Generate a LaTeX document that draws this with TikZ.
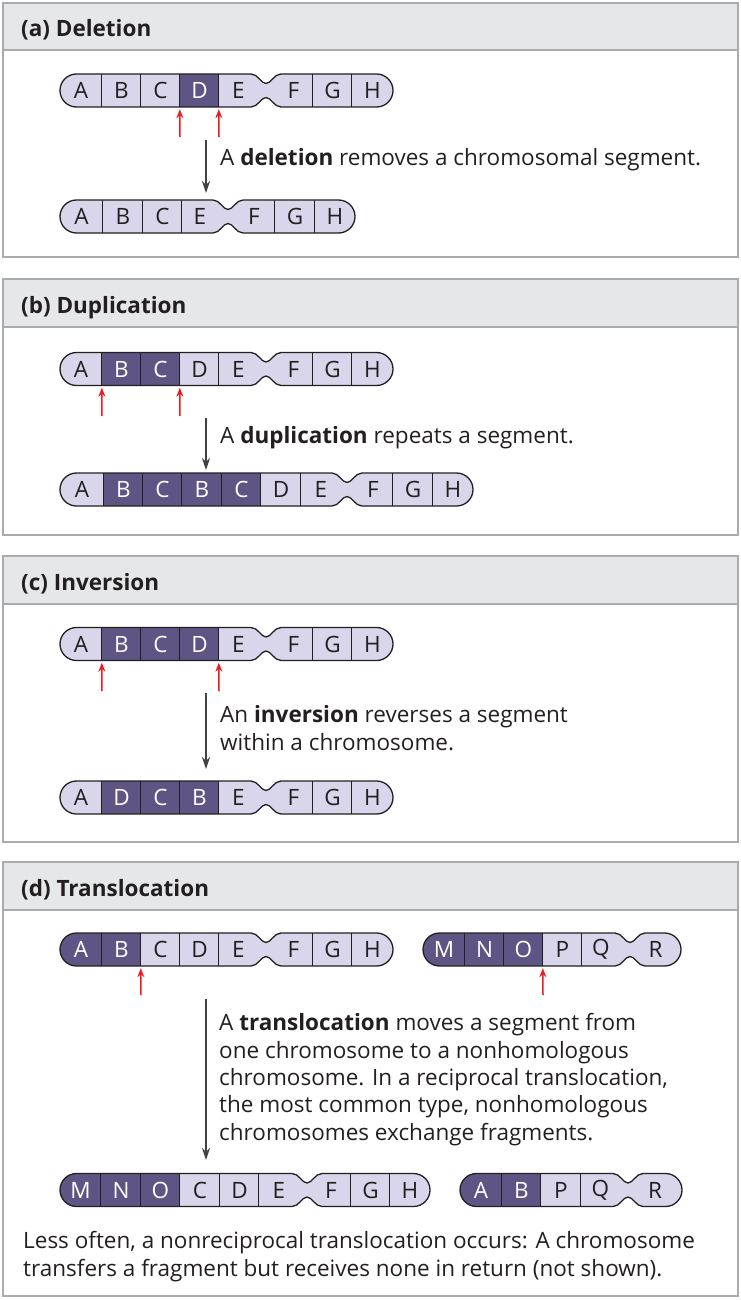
\documentclass[tikz,border=0pt]{standalone}
\usepackage{fontspec}
\setmainfont{Open Sans}
\usetikzlibrary{arrows.meta}

\definecolor{chromlight}{HTML}{D9D5EA}
\definecolor{chromdark}{HTML}{5E5584}
\definecolor{panelgrey}{HTML}{E6E7E8}
\definecolor{framegrey}{HTML}{A9ABAE}
\definecolor{ink}{HTML}{231F20}
\definecolor{cutred}{HTML}{ED1C24}

% outline of a chromosome: left end, right end, centre line, centromere
\newcommand{\chromshape}[4]{%
  ({#1+16.5},{#3-16.5}) -- ({#4-15},{#3-16.5})
  .. controls ({#4-8},{#3-16.5}) and ({#4-5},{#3-7}) .. ({#4},{#3-7})
  .. controls ({#4+5},{#3-7}) and ({#4+8},{#3-16.5}) .. ({#4+15},{#3-16.5})
  -- ({#2-16.5},{#3-16.5}) arc[start angle=-90,end angle=90,radius=16.5]
  -- ({#4+15},{#3+16.5})
  .. controls ({#4+8},{#3+16.5}) and ({#4+5},{#3+7}) .. ({#4},{#3+7})
  .. controls ({#4-5},{#3+7}) and ({#4-8},{#3+16.5}) .. ({#4-15},{#3+16.5})
  -- ({#1+16.5},{#3+16.5}) arc[start angle=90,end angle=270,radius=16.5] -- cycle}

% name, left, right, centre line, centromere, cells
\newcommand{\chromosome}[6]{%
  \begin{scope}
    \clip \chromshape{#2}{#3}{#4}{#5};
    \fill[chromlight] (#2,{#4-20}) rectangle (#3,{#4+20});
    \foreach \xa/\xb/\lab/\kind/\sep [count=\i] in {#6} {
      \node[cell,\kind,minimum width={\xb-\xa}] (#1-\i) at ({(\xa+\xb)/2},#4) {\lab};
      \draw[\sep] (#1-\i.north west) -- (#1-\i.south west);
    }
  \end{scope}
  \draw[chromline] \chromshape{#2}{#3}{#4}{#5};
}

\begin{document}
\begin{tikzpicture}[x=1pt,y=-1pt,
  panel/.style={draw=framegrey,line width=1.5pt},
  header/.style={fill=panelgrey,draw=framegrey,line width=1.5pt},
  title/.style={anchor=base west,inner sep=0,text=ink,font=\fontsize{22.5}{27}\bfseries},
  note/.style={anchor=base west,inner sep=0,text=ink,align=left,font=\fontsize{22.5}{27.3}\selectfont},
  cell/.style={inner sep=0,minimum height=33,font=\fontsize{22.5}{27}\selectfont},
  lightcell/.style={fill=chromlight,text=ink},
  darkcell/.style={fill=chromdark,text=white},
  divider/.style={draw=ink,line width=1.1pt},
  nodivider/.style={draw=none},
  chromline/.style={draw=ink,line width=1.3pt},
  breakpt/.style={draw=cutred,line width=1.5pt,shorten >=2pt,-{Stealth[length=9pt,width=7pt]}},
  change/.style={draw=ink!85,line width=1.5pt,-{Stealth[length=12pt,width=8pt]}}]
\useasboundingbox (0,0) rectangle (740,1300);

% panel frames
\draw[panel] (3,3) rectangle (738,257);
\draw[header] (3,3) rectangle (738,50);
\draw[panel] (3,279) rectangle (738,535);
\draw[header] (3,279) rectangle (738,327);
\draw[panel] (3,556) rectangle (738,842);
\draw[header] (3,556) rectangle (738,604);
\draw[panel] (3,862) rectangle (738,1296);
\draw[header] (3,862) rectangle (738,910);

\node[title] (ta) at (21,37) {(a) Deletion};
\node[title] (tb) at (21,313.5) {(b) Duplication};
\node[title] (tc) at (21,590.5) {(c) Inversion};
\node[title] (td) at (21,896.5) {(d) Translocation};

% (a) deletion
\chromosome{a1}{60}{393}{90.5}{266}{60/102/A/lightcell/nodivider, 102/141/B/lightcell/divider,
  141/180/C/lightcell/divider, 180/219/D/darkcell/divider, 219/258/E/lightcell/divider,
  274/313/F/lightcell/nodivider, 313/352/G/lightcell/divider, 352/393/H/lightcell/divider}
\chromosome{a2}{60}{355}{216.5}{228}{60/103/A/lightcell/nodivider, 103/143/B/lightcell/divider,
  143/182/C/lightcell/divider, 182/218/E/lightcell/divider, 233/275/F/lightcell/nodivider,
  275/315/G/lightcell/divider, 315/355/H/lightcell/divider}
\coordinate (a-cut1) at (180,137);
\coordinate (a-cut2) at (219,137);
\draw[breakpt] (a-cut1) -- (a1-4.south west);
\draw[breakpt] (a-cut2) -- (a1-5.south west);
\coordinate (a-from) at (206,140);
\coordinate (a-to) at (206,193);
\draw[change] (a-from) -- (a-to);
\node[note] (na) at (220,166) {A \textbf{deletion} removes a chromosomal segment.};

% (b) duplication
\chromosome{b1}{60}{393}{369}{266}{60/102/A/lightcell/nodivider, 102/141/B/darkcell/divider,
  141/180/C/darkcell/divider, 180/219/D/lightcell/divider, 219/258/E/lightcell/divider,
  274/313/F/lightcell/nodivider, 313/352/G/lightcell/divider, 352/393/H/lightcell/divider}
\chromosome{b2}{60}{473}{489.5}{347}{60/104/A/lightcell/nodivider, 104/143/B/darkcell/divider,
  143/182/C/darkcell/divider, 182/222/B/darkcell/divider, 222/261/C/darkcell/divider,
  261/301/D/lightcell/divider, 301/341/E/lightcell/divider, 353/393/F/lightcell/nodivider,
  393/433/G/lightcell/divider, 433/473/H/lightcell/divider}
\coordinate (b-cut1) at (102,416);
\coordinate (b-cut2) at (180,416);
\draw[breakpt] (b-cut1) -- (b1-2.south west);
\draw[breakpt] (b-cut2) -- (b1-4.south west);
\coordinate (b-from) at (206,418);
\coordinate (b-to) at (206,470);
\draw[change] (b-from) -- (b-to);
\node[note] (nb) at (220,443) {A \textbf{duplication} repeats a segment.};

% (c) inversion
\chromosome{c1}{60}{393}{644}{266}{60/102/A/lightcell/nodivider, 102/141/B/darkcell/divider,
  141/180/C/darkcell/divider, 180/219/D/darkcell/divider, 219/258/E/lightcell/divider,
  274/313/F/lightcell/nodivider, 313/352/G/lightcell/divider, 352/393/H/lightcell/divider}
\chromosome{c2}{60}{393}{797.5}{266}{60/102/A/lightcell/nodivider, 102/141/D/darkcell/divider,
  141/180/C/darkcell/divider, 180/219/B/darkcell/divider, 219/258/E/lightcell/divider,
  274/313/F/lightcell/nodivider, 313/352/G/lightcell/divider, 352/393/H/lightcell/divider}
\coordinate (c-cut1) at (102,691);
\coordinate (c-cut2) at (219,691);
\draw[breakpt] (c-cut1) -- (c1-2.south west);
\draw[breakpt] (c-cut2) -- (c1-5.south west);
\coordinate (c-from) at (206,693);
\coordinate (c-to) at (206,769);
\draw[change] (c-from) -- (c-to);
% base of a wrapped note is its last line
\node[note] (nc) at (220,750) {An \textbf{inversion} reverses a segment\\within a chromosome.};

% (d) translocation
\chromosome{d1}{60}{393}{949.5}{266}{60/102/A/darkcell/nodivider, 102/141/B/darkcell/divider,
  141/180/C/lightcell/divider, 180/219/D/lightcell/divider, 219/258/E/lightcell/divider,
  274/313/F/lightcell/nodivider, 313/352/G/lightcell/divider, 352/393/H/lightcell/divider}
\chromosome{d2}{423}{681}{949.5}{630}{423/465/M/darkcell/nodivider, 465/504/N/darkcell/divider,
  504/543/O/darkcell/divider, 543/582/P/lightcell/divider, 582/620/Q/lightcell/divider,
  630/681/R/lightcell/nodivider}
\chromosome{d3}{60}{430}{1190}{307}{60/101/M/darkcell/nodivider, 101/141/N/darkcell/divider,
  141/180/O/darkcell/divider, 180/220/C/lightcell/divider, 220/259/D/lightcell/divider,
  259/299/E/lightcell/divider, 311/351/F/lightcell/nodivider, 351/390/G/lightcell/divider,
  390/430/H/lightcell/divider}
\chromosome{d4}{460}{682}{1190}{628}{460/502/A/darkcell/nodivider, 502/541/B/darkcell/divider,
  541/581/P/lightcell/divider, 581/620/Q/lightcell/divider, 628/682/R/lightcell/nodivider}
\coordinate (d-cut1) at (141,995);
\coordinate (d-cut2) at (543,995);
\draw[breakpt] (d-cut1) -- (d1-3.south west);
\draw[breakpt] (d-cut2) -- (d2-4.south west);
\coordinate (d-from) at (206,999);
\coordinate (d-to) at (206,1160);
\draw[change] (d-from) -- (d-to);
\node[note] (nd) at (219,1140) {A \textbf{translocation} moves a segment from\\one chromosome to a nonhomologous\\chromosome. In a reciprocal translocation,\\the most common type, nonhomologous\\chromosomes exchange fragments.};
\node[note] (ne) at (23,1276) {Less often, a nonreciprocal translocation occurs: A chromosome\\transfers a fragment but receives none in return (not shown).};
\end{tikzpicture}
\end{document}
